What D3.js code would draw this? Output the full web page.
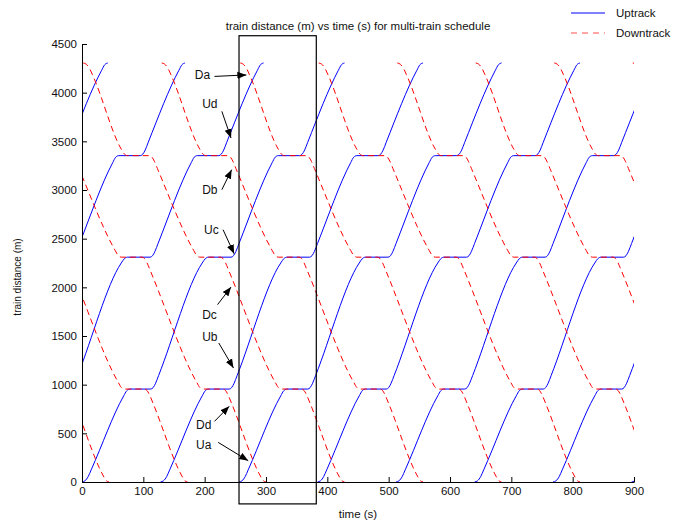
<!DOCTYPE html>
<html>
<head>
<meta charset="utf-8">
<script src="https://cdn.jsdelivr.net/npm/d3@7"></script>
<style>
body { margin: 0; background: #fff; }
text { font-family: "Liberation Sans", Arial, sans-serif; }
</style>
</head>
<body>
<svg id="chart"></svg>
<script>
// departure times (s) of each train from its terminal
var upStarts = [-386, -260, -132, 0, 128, 256, 384, 512, 640, 768, 896];
var downStarts = [-382, -254, -126, 2, 130, 258, 386, 514, 642, 770, 898];

// one trip: [seconds after departure, distance (m)]
var upProfile = [
    [0, 0], [5, 13], [10, 55], [15, 125], [68, 885], [73, 938], [78, 955],
    [112, 955], [116, 970], [120, 1015], [125, 1095], [196, 2250], [201, 2294], [206, 2310],
    [243, 2310], [247, 2325], [251, 2370], [256, 2450], [310, 3280], [315, 3337], [320, 3353],
    [355, 3353], [359, 3368], [363, 3410], [368, 3490], [418, 4230], [423, 4287], [428, 4305]
];
var downProfile = [
    [0, 4305], [5, 4292], [10, 4252], [15, 4185], [62, 3420], [67, 3370], [72, 3353],
    [108, 3353], [112, 3338], [116, 3295], [121, 3220], [180, 2380], [185, 2327], [190, 2310],
    [224, 2310], [228, 2295], [232, 2252], [237, 2177], [313, 1025], [318, 972], [323, 955],
    [356, 955], [360, 940], [364, 897], [369, 822], [416, 72], [421, 17], [426, 0]
];

var xTicks = [0, 100, 200, 300, 400, 500, 600, 700, 800, 900];
var yTicks = [0, 500, 1000, 1500, 2000, 2500, 3000, 3500, 4000, 4500];

// annotation labels: text position, arrow tail, arrow tip (data units)
var notes = [
    {name: "Da", tx: 184, ty: 4143, x0: 216, y0: 4167, x1: 268, y1: 4182},
    {name: "Ud", tx: 196, ty: 3846, x0: 228, y0: 3808, x1: 243, y1: 3534},
    {name: "Db", tx: 196, ty: 2962, x0: 228, y0: 3003, x1: 244, y1: 3209},
    {name: "Uc", tx: 199, ty: 2551, x0: 230, y0: 2592, x1: 248, y1: 2345},
    {name: "Dc", tx: 196, ty: 1678, x0: 221, y0: 1822, x1: 243, y1: 2003},
    {name: "Ub", tx: 196, ty: 1452, x0: 223, y0: 1428, x1: 247, y1: 1171},
    {name: "Dd", tx: 186, ty: 548, x0: 216, y0: 623, x1: 240, y1: 777},
    {name: "Ua", tx: 186, ty: 343, x0: 222, y0: 407, x1: 271, y1: 219}
];
var windowBox = {x0: 256, x1: 382, y0: -225, y1: 4585};

var margin = {top: 44, right: 54, bottom: 42, left: 82},
    width = 688 - margin.left - margin.right,
    height = 524 - margin.top - margin.bottom;

var root = d3.select("#chart")
    .attr("width", width + margin.left + margin.right)
    .attr("height", height + margin.top + margin.bottom);
var svg = root.append("g")
    .attr("transform", "translate(" + margin.left + "," + margin.top + ")");

var x = d3.scaleLinear().domain([0, 900]).range([0, width]);
var y = d3.scaleLinear().domain([0, 4500]).range([height, 0]);

svg.append("defs").append("clipPath")
    .attr("id", "plotclip")
    .append("rect")
    .attr("x", 0).attr("y", -10)
    .attr("width", width).attr("height", height + 20);

var defs = root.append("defs");
defs.append("marker")
    .attr("id", "arrowhead")
    .attr("viewBox", "0 0 10 10")
    .attr("refX", 10).attr("refY", 5)
    .attr("markerWidth", 9).attr("markerHeight", 9)
    .attr("markerUnits", "userSpaceOnUse")
    .attr("orient", "auto")
    .append("path")
    .attr("d", "M0,1 L10,5 L0,9 Z")
    .attr("fill", "#000");

var line = d3.line()
    .x(function(d) { return x(d[0]); })
    .y(function(d) { return y(d[1]); })
    .curve(d3.curveMonotoneX);

function trip(start, profile) {
    return profile.map(function(p) { return [start + p[0], p[1]]; });
}

var traces = svg.append("g").attr("clip-path", "url(#plotclip)");
upStarts.forEach(function(s) {
    traces.append("path")
        .datum(trip(s, upProfile))
        .attr("fill", "none")
        .attr("stroke", "#0000ff")
        .attr("stroke-width", 1)
        .attr("d", line);
});
downStarts.forEach(function(s) {
    traces.append("path")
        .datum(trip(s, downProfile))
        .attr("fill", "none")
        .attr("stroke", "#ff0000")
        .attr("stroke-width", 1)
        .attr("stroke-dasharray", "6,4")
        .attr("d", line);
});

// axes, MATLAB style ticks pointing inward
function styleAxis(g) {
    g.select(".domain").attr("stroke", "#000");
    g.selectAll("text").attr("font-size", "11.5px").attr("fill", "#111")
        .attr("font-family", "Liberation Sans, Arial, sans-serif");
}
svg.append("g")
    .attr("transform", "translate(0," + height + ")")
    .call(d3.axisBottom(x).tickValues(xTicks).tickFormat(d3.format("d"))
        .tickSizeInner(-5).tickSizeOuter(0).tickPadding(5))
    .call(styleAxis);
svg.append("g")
    .call(d3.axisLeft(y).tickValues(yTicks).tickFormat(d3.format("d"))
        .tickSizeInner(-5).tickSizeOuter(0).tickPadding(5))
    .call(styleAxis);

// highlighted window
svg.append("rect")
    .attr("x", x(windowBox.x0))
    .attr("y", y(windowBox.y1))
    .attr("width", x(windowBox.x1) - x(windowBox.x0))
    .attr("height", y(windowBox.y0) - y(windowBox.y1))
    .attr("fill", "none")
    .attr("stroke", "#000")
    .attr("stroke-width", 1.2);

// labels with arrows
notes.forEach(function(n) {
    svg.append("text")
        .attr("x", x(n.tx))
        .attr("y", y(n.ty))
        .attr("font-size", "12px")
        .attr("fill", "#111")
        .text(n.name);
    svg.append("line")
        .attr("x1", x(n.x0)).attr("y1", y(n.y0))
        .attr("x2", x(n.x1)).attr("y2", y(n.y1))
        .attr("stroke", "#000")
        .attr("stroke-width", 1)
        .attr("marker-end", "url(#arrowhead)");
});

// titles
svg.append("text")
    .attr("x", width / 2)
    .attr("y", -14)
    .attr("text-anchor", "middle")
    .attr("font-size", "11.5px")
    .attr("fill", "#111")
    .text("train distance (m) vs time (s) for multi-train schedule");
svg.append("text")
    .attr("x", width / 2)
    .attr("y", height + 36)
    .attr("text-anchor", "middle")
    .attr("font-size", "11.5px")
    .attr("fill", "#111")
    .text("time (s)");
svg.append("text")
    .attr("transform", "translate(-61," + (height / 2 + 14) + ") rotate(-90)")
    .attr("text-anchor", "middle")
    .attr("font-size", "10px")
    .attr("fill", "#111")
    .text("train distance (m)");

// legend
var legend = root.append("g").attr("transform", "translate(571,13)");
legend.append("line")
    .attr("x1", 0).attr("x2", 34).attr("y1", 0).attr("y2", 0)
    .attr("stroke", "#0000ff").attr("stroke-width", 1);
legend.append("text")
    .attr("x", 45).attr("y", 4)
    .attr("font-size", "11.5px").attr("fill", "#111")
    .text("Uptrack");
legend.append("line")
    .attr("x1", 0).attr("x2", 34).attr("y1", 20).attr("y2", 20)
    .attr("stroke", "#ff0000").attr("stroke-width", 1)
    .attr("stroke-opacity", 0.7)
    .attr("stroke-dasharray", "6,5");
legend.append("text")
    .attr("x", 45).attr("y", 24)
    .attr("font-size", "11.5px").attr("fill", "#111")
    .text("Downtrack");
</script>
</body>
</html>
